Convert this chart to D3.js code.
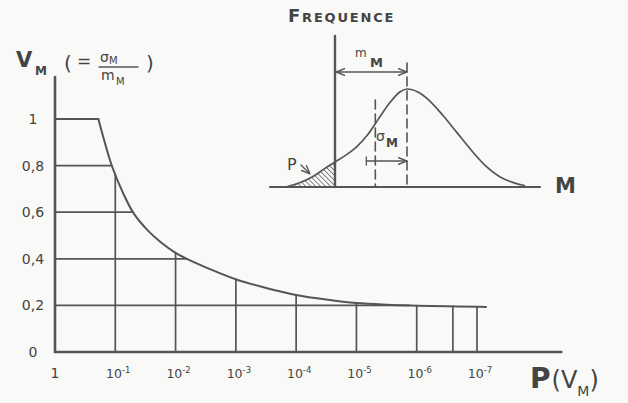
<!DOCTYPE html>
<html lang="fr">
<head>
  <meta charset="UTF-8">
  <title>V_M en fonction de P(V_M)</title>
  <script src="https://cdnjs.cloudflare.com/ajax/libs/d3/7.8.5/d3.min.js"></script>
  <style>
    body {
      margin: 0;
      background: #f9f9f7;
    }
    svg {
      display: block;
      background: #f9f9f7;
      font-family: "DejaVu Sans", sans-serif;
    }
    .ink {
      stroke: #555;
      fill: none;
      stroke-linecap: round;
    }
    .lbl {
      fill: #444;
    }
  </style>
</head>
<body>
  <script>
    // main curve: log10 P(V_M) against V_M
    var logP = [0, -0.72, -0.80, -0.95, -1.13, -1.30, -1.53, -1.75, -1.98, -2.24, -2.53, -3.02, -3.5, -4, -4.5, -5, -5.5, -6, -6.5, -7, -7.15];
    var vm = [1, 1, 0.923, 0.794, 0.682, 0.597, 0.524, 0.472, 0.429, 0.393, 0.36, 0.31, 0.275, 0.245, 0.225, 0.21, 0.203, 0.199, 0.196, 0.194, 0.193];

    var yTicks = [0, 0.2, 0.4, 0.6, 0.8, 1];
    var yTickLabels = ["0", "0,2", "0,4", "0,6", "0,8", "1"];
    var xExp = [-1, -2, -3, -4, -5, -6, -7];
    var xExpLabels = ["-1", "-2", "-3", "-4", "-5", "-6", "-7"];
    var vGrid = [-1, -2, -3, -4, -5, -6, -6.6, -7];

    // inset: frequency of M (m_M = 1)
    var mVals = [-0.68, -0.5, -0.3, -0.15, 0, 0.15, 0.3, 0.45, 0.6, 0.75, 0.9, 1.0, 1.15, 1.3, 1.5, 1.7, 1.9, 2.1, 2.3, 2.5, 2.63];
    var freq = [0, 0.04, 0.11, 0.185, 0.255, 0.325, 0.41, 0.53, 0.69, 0.85, 0.97, 1.0, 0.97, 0.89, 0.73, 0.55, 0.37, 0.21, 0.10, 0.04, 0.015];
    var sigmaM = 0.44;

    var w = 628, h = 403;

    var svg = d3.select("body").append("svg")
      .attr("width", w)
      .attr("height", h);

    var defs = svg.append("defs");
    defs.append("marker")
      .attr("id", "arr")
      .attr("viewBox", "0 0 10 10")
      .attr("refX", 10).attr("refY", 5)
      .attr("markerWidth", 7).attr("markerHeight", 7)
      .attr("orient", "auto-start-reverse")
      .append("path")
      .attr("d", "M0,1 L10,5 L0,9")
      .attr("fill", "none")
      .attr("stroke", "#555")
      .attr("stroke-width", 1.5);
    defs.append("pattern")
      .attr("id", "hatch")
      .attr("patternUnits", "userSpaceOnUse")
      .attr("width", 3.5).attr("height", 3.5)
      .attr("patternTransform", "rotate(-45)")
      .append("line")
      .attr("x1", 0).attr("y1", 0).attr("x2", 0).attr("y2", 3.5)
      .attr("stroke", "#555")
      .attr("stroke-width", 1.4);

    var x = d3.scaleLog()
      .domain([1, 1e-7])
      .range([55, 477]);

    var y = d3.scaleLinear()
      .domain([0, 1])
      .range([352, 119]);

    var curve = logP.map(function(d, i) {
      return [Math.pow(10, d), vm[i]];
    });

    // V_M on the curve at a given log10 P
    function vAt(lp) {
      for (var i = 1; i < logP.length; i++) {
        if (lp >= logP[i]) {
          var t = (lp - logP[i - 1]) / (logP[i] - logP[i - 1]);
          return vm[i - 1] + t * (vm[i] - vm[i - 1]);
        }
      }
      return vm[vm.length - 1];
    }
    // log10 P where the curve comes down to v (or its end)
    function pAt(v) {
      for (var i = 1; i < vm.length; i++) {
        if (v >= vm[i]) {
          var t = (v - vm[i - 1]) / (vm[i] - vm[i - 1]);
          return logP[i - 1] + t * (logP[i] - logP[i - 1]);
        }
      }
      return logP[logP.length - 1];
    }

    // grid
    svg.selectAll(".hgrid")
      .data(yTicks.filter(function(d) { return d > 0 && d < 1; }))
      .enter()
      .append("line")
      .attr("class", "hgrid ink")
      .attr("stroke-width", 1.7)
      .attr("x1", x(1))
      .attr("x2", function(d) { return x(Math.pow(10, pAt(d))); })
      .attr("y1", function(d) { return y(d); })
      .attr("y2", function(d) { return y(d); });

    svg.selectAll(".vgrid")
      .data(vGrid)
      .enter()
      .append("line")
      .attr("class", "vgrid ink")
      .attr("stroke-width", 1.7)
      .attr("x1", function(d) { return x(Math.pow(10, d)); })
      .attr("x2", function(d) { return x(Math.pow(10, d)); })
      .attr("y1", y(0))
      .attr("y2", function(d) { return y(vAt(d)); });

    // curve
    var line = d3.line()
      .x(function(d) { return x(d[0]); })
      .y(function(d) { return y(d[1]); })
      .curve(d3.curveCatmullRom.alpha(0.5));

    svg.append("path")
      .datum(curve.slice(1))
      .attr("class", "ink")
      .attr("stroke-width", 2)
      .attr("d", line);
    svg.append("path")
      .datum(curve.slice(0, 2))
      .attr("class", "ink")
      .attr("stroke-width", 2)
      .attr("d", d3.line().x(function(d) { return x(d[0]); }).y(function(d) { return y(d[1]); }));

    // axes
    svg.append("line")
      .attr("class", "ink")
      .attr("stroke-width", 2.6)
      .attr("x1", x(1)).attr("x2", x(1))
      .attr("y1", 77).attr("y2", y(0));
    svg.append("line")
      .attr("class", "ink")
      .attr("stroke-width", 2.6)
      .attr("x1", x(1)).attr("x2", x(Math.pow(10, -8.4)))
      .attr("y1", y(0)).attr("y2", y(0));

    // y tick labels
    svg.selectAll(".ylbl")
      .data(yTicks)
      .enter()
      .append("text")
      .attr("class", "ylbl lbl")
      .attr("x", 33)
      .attr("y", function(d) { return y(d); })
      .attr("dy", "0.36em")
      .attr("text-anchor", "middle")
      .attr("font-size", 14)
      .text(function(d, i) { return yTickLabels[i]; });

    // x tick labels
    svg.append("text")
      .attr("class", "lbl")
      .attr("x", x(1))
      .attr("y", 378)
      .attr("text-anchor", "middle")
      .attr("font-size", 14)
      .text("1");

    var xl = svg.selectAll(".xlbl")
      .data(xExp)
      .enter()
      .append("text")
      .attr("class", "xlbl lbl")
      .attr("x", function(d) { return x(Math.pow(10, d)) + 3; })
      .attr("y", 378)
      .attr("text-anchor", "middle")
      .attr("font-size", 12.5);
    xl.append("tspan").text("10");
    xl.append("tspan")
      .attr("font-size", 8.5)
      .attr("dy", -5)
      .text(function(d, i) { return xExpLabels[i]; });

    // axis titles
    var xt = svg.append("text")
      .attr("class", "lbl")
      .attr("x", 530)
      .attr("y", 388)
      .attr("font-size", 28);
    xt.append("tspan").attr("font-weight", "bold").text("P");
    xt.append("tspan").attr("font-size", 24).attr("dx", 1).text("(");
    xt.append("tspan").attr("font-size", 24).text("V");
    xt.append("tspan").attr("font-size", 14).attr("dy", 8).text("M");
    xt.append("tspan").attr("font-size", 24).attr("dy", -8).text(")");

    var yt = svg.append("g").attr("class", "lbl");
    yt.append("text").attr("x", 16).attr("y", 67).attr("font-size", 21).attr("font-weight", "bold").text("V");
    yt.append("text").attr("x", 35).attr("y", 75).attr("font-size", 12).attr("font-weight", "bold").text("M");
    yt.append("text").attr("x", 64).attr("y", 70).attr("font-size", 20).text("(");
    yt.append("text").attr("x", 77).attr("y", 67).attr("font-size", 17).text("=");
    yt.append("text").attr("x", 100).attr("y", 62).attr("font-size", 14).text("σ");
    yt.append("text").attr("x", 109).attr("y", 64).attr("font-size", 10).text("M");
    yt.append("line").attr("class", "ink").attr("stroke-width", 1.3)
      .attr("x1", 99).attr("x2", 138).attr("y1", 67).attr("y2", 67);
    yt.append("text").attr("x", 101).attr("y", 80).attr("font-size", 14).text("m");
    yt.append("text").attr("x", 116).attr("y", 85).attr("font-size", 10).text("M");
    yt.append("text").attr("x", 146).attr("y", 70).attr("font-size", 20).text(")");

    // inset
    var xm = d3.scaleLinear()
      .domain([0, 1])
      .range([335, 407]);
    var yf = d3.scaleLinear()
      .domain([0, 1])
      .range([187, 89]);

    var dens = mVals.map(function(d, i) { return [d, freq[i]]; });

    svg.append("path")
      .datum(dens.filter(function(d) { return d[0] <= 0; }))
      .attr("fill", "url(#hatch)")
      .attr("d", d3.area()
        .x(function(d) { return xm(d[0]); })
        .y0(yf(0))
        .y1(function(d) { return yf(d[1]); })
        .curve(d3.curveCatmullRom.alpha(0.5)));

    svg.append("path")
      .datum(dens)
      .attr("class", "ink")
      .attr("stroke-width", 1.7)
      .attr("d", d3.line()
        .x(function(d) { return xm(d[0]); })
        .y(function(d) { return yf(d[1]); })
        .curve(d3.curveCatmullRom.alpha(0.5)));

    // dashed lines at m_M and m_M - sigma_M
    svg.append("line")
      .attr("class", "ink")
      .attr("stroke-width", 1.6)
      .attr("stroke-dasharray", "9,5")
      .attr("x1", xm(1)).attr("x2", xm(1))
      .attr("y1", 63).attr("y2", yf(0));
    svg.append("line")
      .attr("class", "ink")
      .attr("stroke-width", 1.6)
      .attr("stroke-dasharray", "9,5")
      .attr("x1", xm(1 - sigmaM)).attr("x2", xm(1 - sigmaM))
      .attr("y1", 100).attr("y2", yf(0));

    svg.append("line")
      .attr("class", "ink")
      .attr("stroke-width", 2.4)
      .attr("x1", xm(0)).attr("x2", xm(0))
      .attr("y1", 36).attr("y2", yf(0));
    svg.append("line")
      .attr("class", "ink")
      .attr("stroke-width", 2.2)
      .attr("x1", 270).attr("x2", 540)
      .attr("y1", yf(0)).attr("y2", yf(0));

    // m_M dimension
    svg.append("line")
      .attr("class", "ink")
      .attr("stroke-width", 1.3)
      .attr("marker-start", "url(#arr)")
      .attr("marker-end", "url(#arr)")
      .attr("x1", xm(0) + 1).attr("x2", xm(1))
      .attr("y1", 72).attr("y2", 72);
    // sigma_M dimension
    svg.append("line")
      .attr("class", "ink")
      .attr("stroke-width", 1.3)
      .attr("marker-end", "url(#arr)")
      .attr("x1", xm(1 - sigmaM) - 9).attr("x2", xm(1))
      .attr("y1", 161).attr("y2", 161);
    svg.append("line")
      .attr("class", "ink")
      .attr("stroke-width", 1.3)
      .attr("x1", xm(1 - sigmaM) - 9).attr("x2", xm(1 - sigmaM) - 9)
      .attr("y1", 157).attr("y2", 165);

    svg.append("text").attr("class", "lbl").attr("x", 355).attr("y", 57).attr("font-size", 12).text("m");
    svg.append("text").attr("class", "lbl").attr("x", 370).attr("y", 67).attr("font-size", 13).attr("font-weight", "bold").text("M");
    svg.append("text").attr("class", "lbl").attr("x", 376).attr("y", 141).attr("font-size", 14).text("σ");
    svg.append("text").attr("class", "lbl").attr("x", 386).attr("y", 147).attr("font-size", 12).attr("font-weight", "bold").text("M");

    svg.append("text").attr("class", "lbl").attr("x", 287).attr("y", 170).attr("font-size", 16).text("P");
    svg.append("line")
      .attr("class", "ink")
      .attr("stroke-width", 1.3)
      .attr("marker-end", "url(#arr)")
      .attr("x1", 301).attr("y1", 165)
      .attr("x2", 310).attr("y2", 174);

    var ft = svg.append("text")
      .attr("class", "lbl")
      .attr("x", 288)
      .attr("y", 22)
      .attr("font-weight", "bold")
      .attr("letter-spacing", 1.8);
    ft.append("tspan").attr("font-size", 18).text("F");
    ft.append("tspan").attr("font-size", 13).text("REQUENCE");

    svg.append("text")
      .attr("class", "lbl")
      .attr("x", 555)
      .attr("y", 193)
      .attr("font-size", 21)
      .attr("font-weight", "bold")
      .text("M");
  </script>
</body>
</html>
